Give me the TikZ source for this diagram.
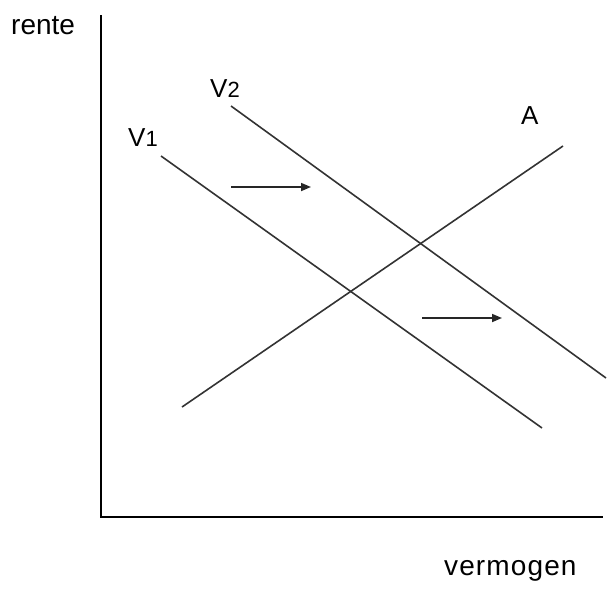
\documentclass[tikz,border=0pt]{standalone}
\usepackage{fontspec}
\setmainfont{Liberation Sans}
\usetikzlibrary{arrows.meta}

\begin{document}
\begin{tikzpicture}[
    x=1pt, y=-1pt,
    >={Triangle[length=10pt, width=8pt]},
    axisline/.style={line width=1.8pt, black},
    curveline/.style={line width=1.6pt, black!80},
    shiftarrow/.style={->, line width=1.7pt, black!85},
    axlabel/.style={anchor=base west, inner sep=0pt, font=\fontsize{28}{32}\selectfont},
    curvelabel/.style={anchor=base west, inner sep=0pt, font=\fontsize{26}{30}\selectfont},
]
    \useasboundingbox (0,0) rectangle (610,590);

    % axes
    \coordinate (origin) at (101,517);
    \coordinate (ytop) at (101,15);
    \coordinate (xend) at (603,517);
    \draw[axisline] (ytop) -- (origin) -- (xend);
    \node[axlabel] (rente) at (11,34) {rente};
    \node[axlabel] (vermogen) at (444,575) {\addfontfeature{LetterSpace=4}vermogen};

    % curves
    \coordinate (V1start) at (161,156);
    \coordinate (V1end) at (542,428);
    \coordinate (V2start) at (231,106);
    \coordinate (V2end) at (606,378);
    \coordinate (Astart) at (182,407);
    \coordinate (Aend) at (563,146);
    \draw[curveline] (V1start) -- (V1end);
    \draw[curveline] (V2start) -- (V2end);
    \draw[curveline] (Astart) -- (Aend);

    \node[curvelabel] (V1) at (128,146) {V{\fontsize{22}{24}\selectfont 1}};
    \node[curvelabel] (V2) at (210,97) {V{\fontsize{22}{24}\selectfont 2}};
    \node[curvelabel] (A) at (521,124) {A};

    % shift of V
    \coordinate (s1a) at (231,187);
    \coordinate (s1b) at (311,187);
    \coordinate (s2a) at (422,318);
    \coordinate (s2b) at (502,318);
    \draw[shiftarrow] (s1a) -- (s1b);
    \draw[shiftarrow] (s2a) -- (s2b);

\end{tikzpicture}
\end{document}
